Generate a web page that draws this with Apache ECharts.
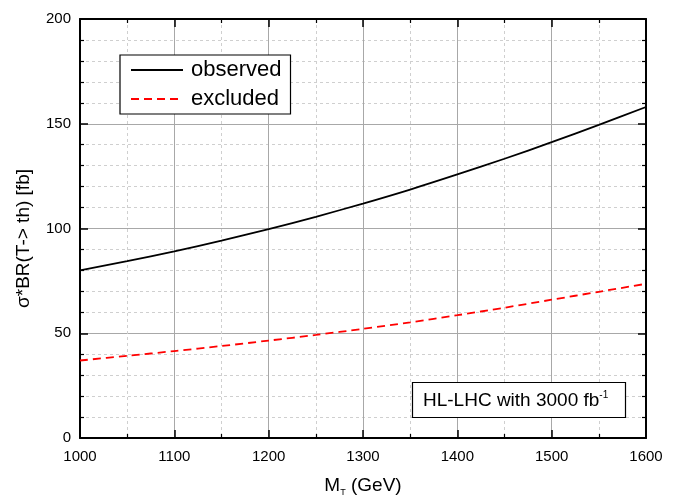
<!DOCTYPE html>
<html>
<head>
<meta charset="utf-8">
<script src="https://cdn.jsdelivr.net/npm/echarts@6/dist/echarts.min.js"></script>
<style>
  html, body { margin: 0; padding: 0; background: #fff; }
  #chart { width: 677px; height: 498px; }
</style>
</head>
<body>
<div id="chart"></div>
<script>
// Top-partner mass points (GeV)
const massPoints = [1000, 1050, 1100, 1150, 1200, 1250, 1300, 1350, 1400, 1450, 1500, 1550, 1600];
// sigma*BR(T -> th) in fb
const observed = [80, 84.4, 89.1, 94.2, 99.7, 105.6, 111.9, 118.6, 125.8, 133.3, 141.2, 149.5, 158];
const excluded = [37, 39.2, 41.5, 43.9, 46.5, 49.2, 52.1, 55.2, 58.6, 62.2, 66, 69.8, 73.6];
const seriesNames = ['observed', 'excluded'];

const FONT = '"Liberation Sans", Arial, sans-serif';
const pairs = (ys) => massPoints.map((x, i) => [x, ys[i]]);
const plain = (v) => String(v);

const frameTick = { show: true, inside: true, length: 8, lineStyle: { color: '#000', width: 1.5 } };
const frameMinor = { show: true, length: 4, lineStyle: { color: '#000', width: 1.2 } };
const frameLine = { show: true, onZero: false, lineStyle: { color: '#000', width: 2 } };

const chart = echarts.init(document.getElementById('chart'), null, { renderer: 'canvas' });
chart.setOption({
  animation: false,
  backgroundColor: '#fff',
  textStyle: { fontFamily: FONT },
  grid: { left: 80, right: 31, top: 19, bottom: 60, containLabel: false, outerBoundsMode: 'none' },
  xAxis: [{
    type: 'value', min: 1000, max: 1600, interval: 100,
    name: '{m|M}{s|T}{m| (GeV)}',
    nameLocation: 'middle', nameGap: 37,
    nameTextStyle: {
      rich: {
        m: { fontSize: 19, color: '#000', fontFamily: FONT, lineHeight: 22 },
        s: { fontSize: 9, color: '#000', fontFamily: FONT, verticalAlign: 'bottom', lineHeight: 9 }
      }
    },
    axisLine: frameLine,
    axisTick: frameTick,
    minorTick: Object.assign({ splitNumber: 2 }, frameMinor),
    axisLabel: { color: '#000', fontSize: 15, margin: 11, fontFamily: FONT, formatter: plain },
    splitLine: { show: true, lineStyle: { color: '#a8a8a8', width: 1 } },
    minorSplitLine: { show: true, lineStyle: { color: '#cfcfcf', width: 1, type: [3, 3] } }
  }, {
    type: 'value', position: 'top', min: 1000, max: 1600, interval: 100,
    axisLine: frameLine,
    axisTick: frameTick,
    minorTick: Object.assign({ splitNumber: 2 }, frameMinor),
    axisLabel: { show: false },
    splitLine: { show: false }
  }],
  yAxis: [{
    type: 'value', min: 0, max: 200, interval: 50,
    name: 'σ*BR(T-> th) [fb]',
    nameLocation: 'middle', nameGap: 47,
    nameTextStyle: { fontSize: 19, color: '#000', fontFamily: FONT, padding: [0, 20, 0, 0] },
    axisLine: frameLine,
    axisTick: frameTick,
    minorTick: Object.assign({ splitNumber: 5 }, frameMinor),
    axisLabel: { color: '#000', fontSize: 15, margin: 9, fontFamily: FONT, formatter: plain },
    splitLine: { show: true, lineStyle: { color: '#a8a8a8', width: 1 } },
    minorSplitLine: { show: true, lineStyle: { color: '#cfcfcf', width: 1, type: [3, 3] } }
  }, {
    type: 'value', position: 'right', min: 0, max: 200, interval: 50,
    axisLine: frameLine,
    axisTick: frameTick,
    minorTick: Object.assign({ splitNumber: 5 }, frameMinor),
    axisLabel: { show: false },
    splitLine: { show: false }
  }],
  legend: {
    orient: 'vertical',
    left: 120, top: 55,
    padding: [4, 9, 4, 10],
    itemGap: 7,
    itemWidth: 52, itemHeight: 14,
    backgroundColor: '#fff',
    borderColor: '#000', borderWidth: 1.2, borderRadius: 0,
    itemStyle: { color: 'rgba(0,0,0,0)', borderWidth: 0 },
    textStyle: { fontSize: 22, color: '#000', fontFamily: FONT, padding: [0, 0, 0, 3] },
    data: seriesNames
  },
  title: {
    text: '{a|HL-LHC with 3000 fb}{b|-1}',
    left: 412, top: 382,
    padding: [8, 17, 7, 11],
    backgroundColor: '#fff',
    borderColor: '#000', borderWidth: 1.2,
    textStyle: {
      rich: {
        a: { fontSize: 19, fontWeight: 'normal', color: '#000', fontFamily: FONT, lineHeight: 22 },
        b: { fontSize: 10, fontWeight: 'normal', color: '#000', fontFamily: FONT, verticalAlign: 'top', lineHeight: 10 }
      }
    }
  },
  series: [{
    name: seriesNames[0],
    type: 'line',
    data: pairs(observed),
    smooth: 0.3,
    symbol: 'none',
    lineStyle: { color: '#000', width: 1.8 },
    itemStyle: { color: '#000' },
    z: 5
  }, {
    name: seriesNames[1],
    type: 'line',
    data: pairs(excluded),
    smooth: 0.3,
    symbol: 'none',
    lineStyle: { color: '#ff0000', width: 1.8, type: [8, 5] },
    itemStyle: { color: '#ff0000' },
    z: 5
  }]
});
</script>
</body>
</html>
